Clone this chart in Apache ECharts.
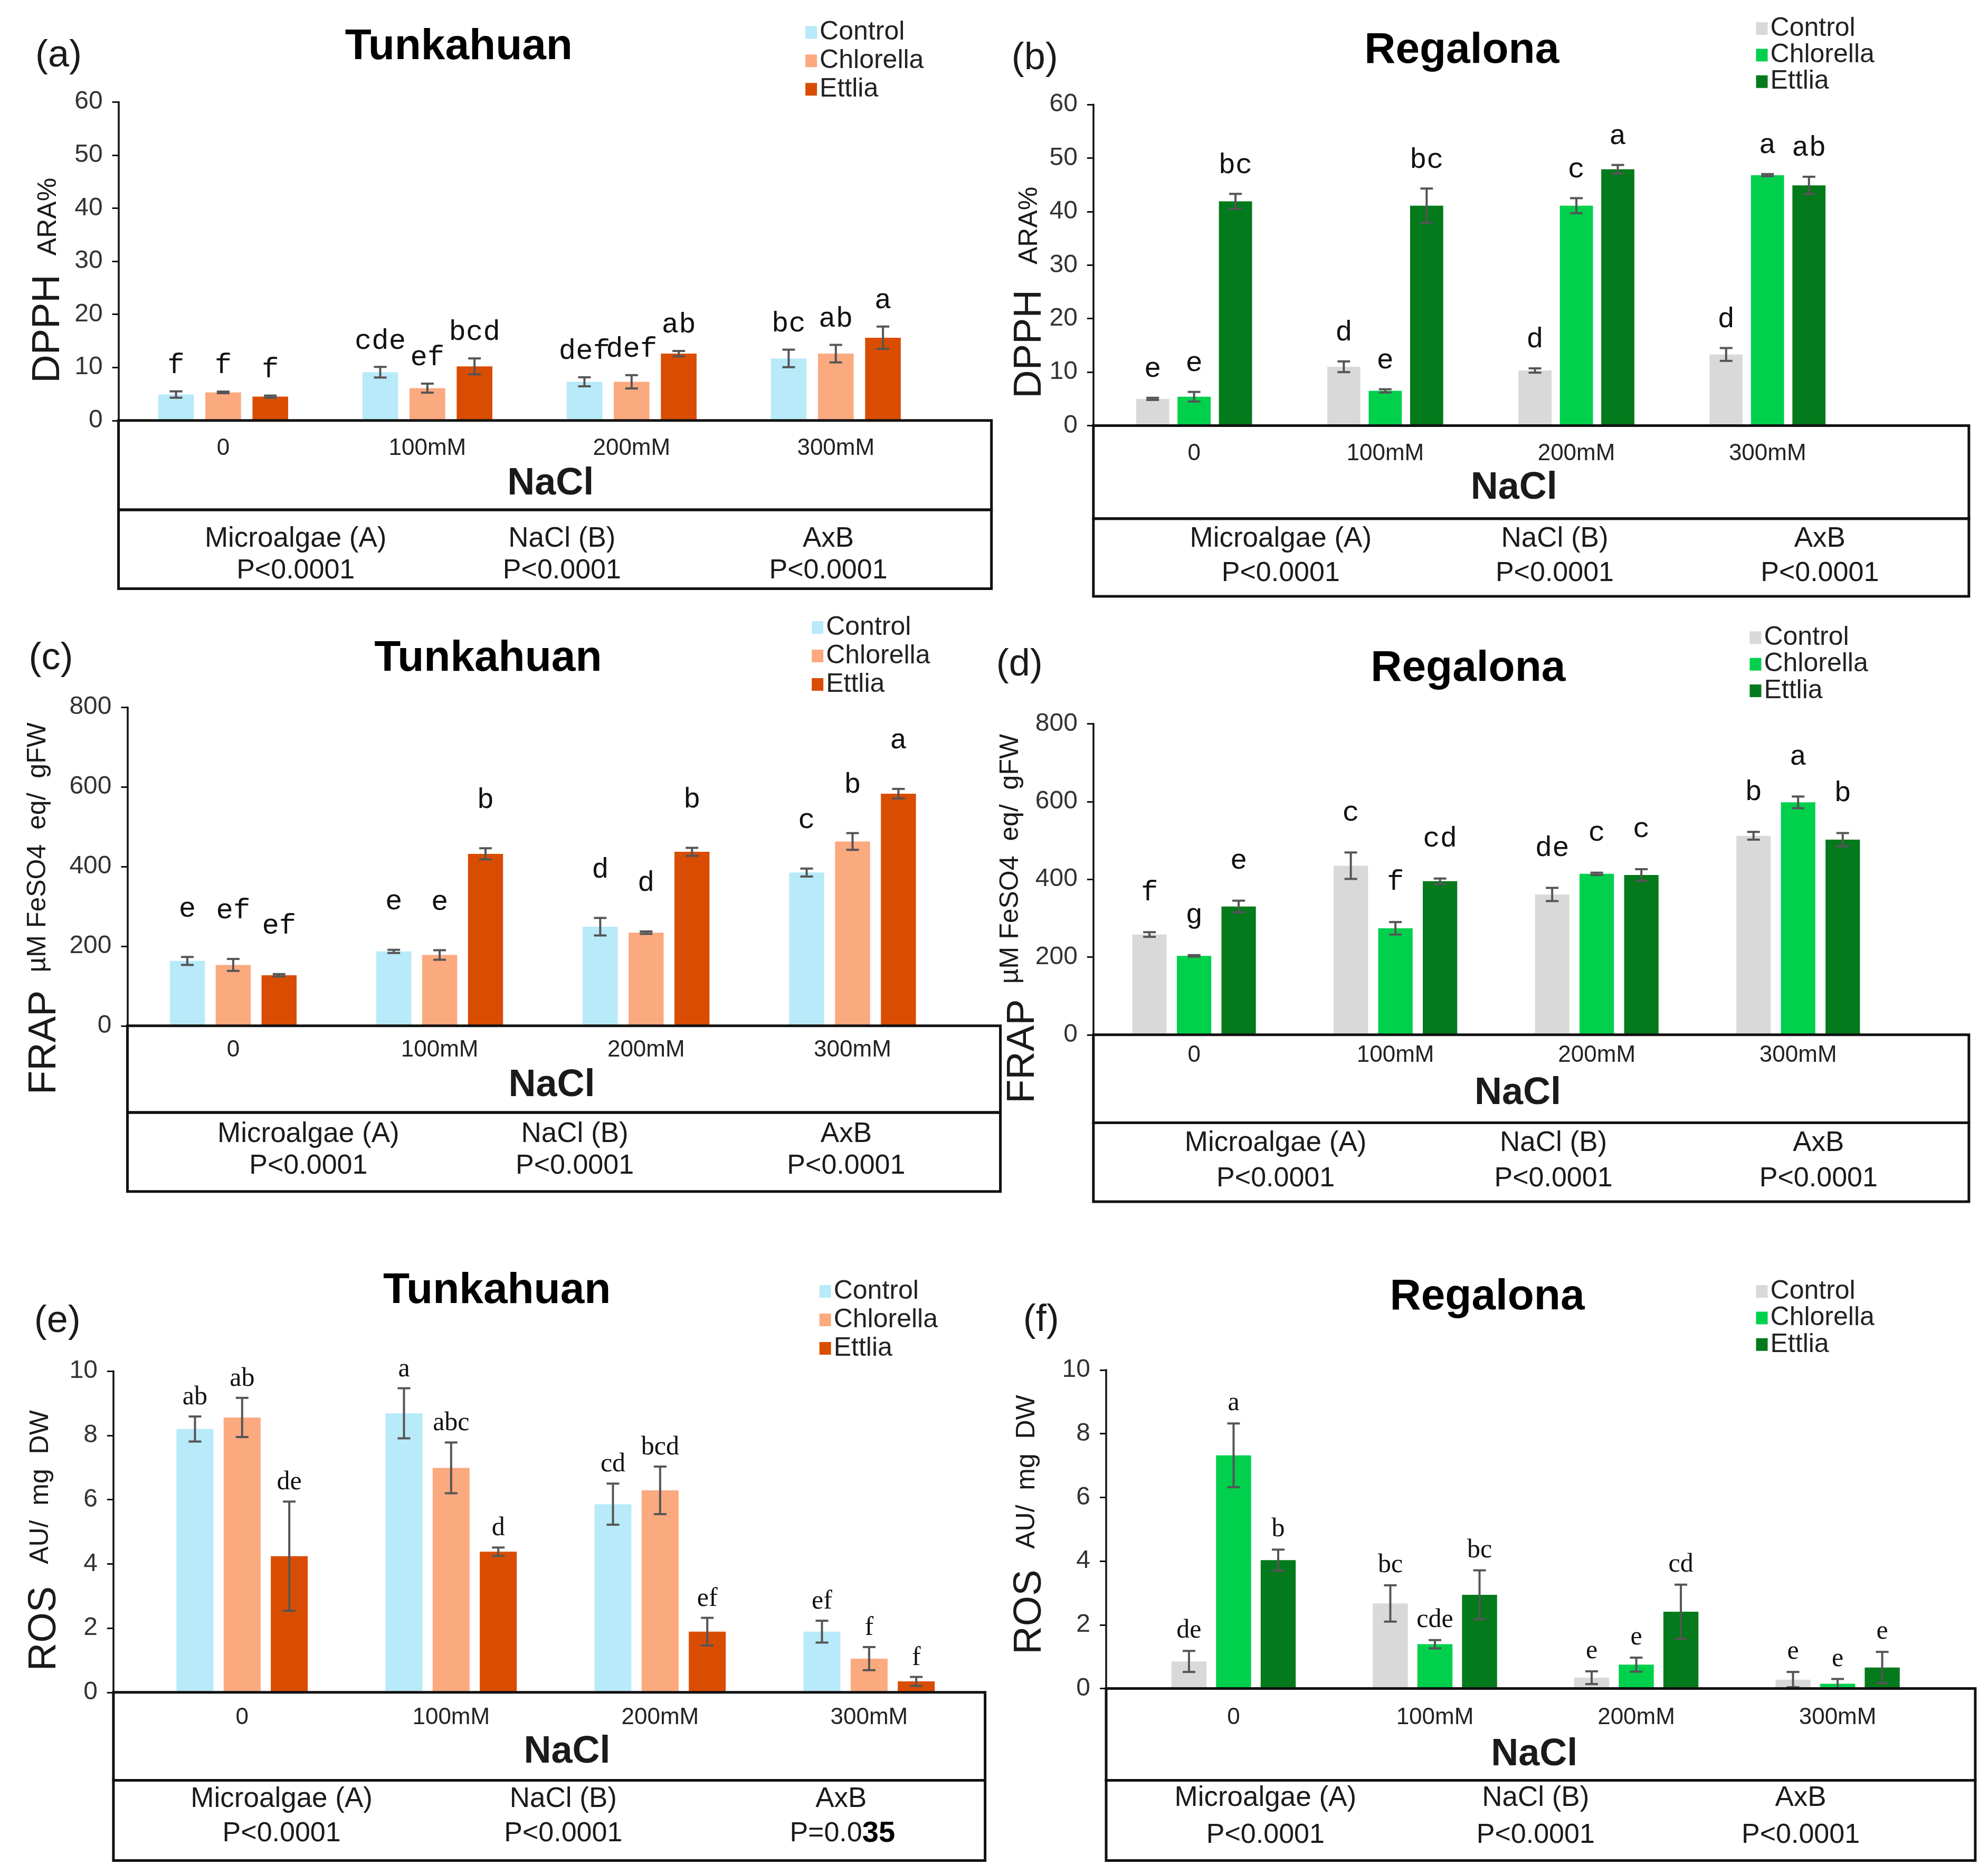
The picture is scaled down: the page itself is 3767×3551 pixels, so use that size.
<!DOCTYPE html>
<html lang="en">
<head>
<meta charset="utf-8">
<title>DPPH, FRAP and ROS - Tunkahuan / Regalona</title>
<script src="https://cdn.jsdelivr.net/npm/echarts@6/dist/echarts.min.js"></script>
<style>
  html, body { margin: 0; padding: 0; background: #fff; }
  #main { width: 3767px; height: 3551px; }
</style>
</head>
<body>
<div id="main"></div>
<script>
// ---------- data ----------
var nacl = ['0', '100mM', '200mM', '300mM'];
var treatments = ['Control', 'Chlorella', 'Ettlia'];
var effects = ['Microalgae (A)', 'NaCl (B)', 'AxB'];

// rows: Control, Chlorella, Ettlia ; columns: 0, 100mM, 200mM, 300mM
var dpphTunVal = [[4.9, 9.1, 7.3, 11.7], [5.3, 6.1, 7.3, 12.6], [4.5, 10.2, 12.6, 15.6]];
var dpphTunErr = [[0.6, 1.0, 0.85, 1.65], [0.15, 0.85, 1.25, 1.65], [0.2, 1.5, 0.5, 2.1]];
var dpphTunLet = [['f', 'cde', 'def', 'bc'], ['f', 'ef', 'def', 'ab'], ['f', 'bcd', 'ab', 'a']];
var dpphTunP = ['P<0.0001', 'P<0.0001', 'P<0.0001'];

var dpphRegVal = [[5.0, 11.0, 10.3, 13.3], [5.4, 6.5, 41.1, 46.8], [41.9, 41.1, 47.9, 44.9]];
var dpphRegErr = [[0.2, 1.0, 0.4, 1.2], [0.9, 0.3, 1.4, 0.2], [1.4, 3.2, 0.8, 1.6]];
var dpphRegLet = [['e', 'd', 'd', 'd'], ['e', 'e', 'c', 'a'], ['bc', 'bc', 'a', 'ab']];
var dpphRegP = ['P<0.0001', 'P<0.0001', 'P<0.0001'];

var frapTunVal = [[163, 187, 249, 385], [153, 178, 234, 463], [127, 432, 437, 583]];
var frapTunErr = [[10, 4, 22, 10], [15, 12, 3, 21], [3, 14, 10, 12]];
var frapTunLet = [['e', 'e', 'd', 'c'], ['ef', 'e', 'd', 'b'], ['ef', 'b', 'b', 'a']];
var frapTunP = ['P<0.0001', 'P<0.0001', 'P<0.0001'];

var frapRegVal = [[258, 435, 361, 512], [203, 274, 414, 598], [330, 395, 411, 502]];
var frapRegErr = [[6, 34, 17, 10], [2, 16, 3, 15], [15, 7, 15, 17]];
var frapRegLet = [['f', 'c', 'de', 'b'], ['g', 'f', 'c', 'a'], ['e', 'cd', 'c', 'b']];
var frapRegP = ['P<0.0001', 'P<0.0001', 'P<0.0001'];

var rosTunVal = [[8.2, 8.69, 5.86, 1.89], [8.56, 6.99, 6.29, 1.05], [4.24, 4.38, 1.89, 0.34]];
var rosTunErr = [[0.39, 0.78, 0.64, 0.34], [0.61, 0.79, 0.74, 0.36], [1.7, 0.13, 0.43, 0.14]];
var rosTunLet = [['ab', 'a', 'cd', 'ef'], ['ab', 'abc', 'bcd', 'f'], ['de', 'd', 'ef', 'f']];
var rosTunP = ['P<0.0001', 'P<0.0001', 'P=0.035'];

var rosRegVal = [[0.85, 2.67, 0.34, 0.28], [7.32, 1.39, 0.75, 0.15], [4.03, 2.94, 2.41, 0.66]];
var rosRegErr = [[0.33, 0.57, 0.2, 0.24], [1.0, 0.13, 0.22, 0.15], [0.33, 0.77, 0.85, 0.49]];
var rosRegLet = [['de', 'bc', 'e', 'e'], ['a', 'cde', 'e', 'e'], ['b', 'bc', 'cd', 'e']];
var rosRegP = ['P<0.0001', 'P<0.0001', 'P<0.0001'];

// ---------- layout (measured on a 1560 px wide copy, scaled by k) ----------
var k = 3767 / 1560;
function px(v) { return v * k; }

var SANS = '"Liberation Sans", Arial, sans-serif';
var tunColors = ['#b8eaf9', '#fba97f', '#d94d02'];
var regColors = ['#d9d9d9', '#00d04c', '#037a1b'];
var monoLetters = '54px "Liberation Mono", monospace';
var serifLetters = '50px "Liberation Serif", serif';
var catFont = 44;

var panels = [
  { tag: '(a)', tagAt: [46, 44], title: 'Tunkahuan', titleAt: [360, 37], legend: [632, 25, 21.5],
    colors: tunColors, grid: [95, 80, 736, 330], axisX: 93, box: [400, 462, 778], yMax: 60, yStep: 10,
    bar: [28, 37], gap: 22, letterFont: monoLetters, xLabel: 22,
    yBig: ['DPPH', 38, 258], ySmall: ['ARA%', 38, 170], naclAt: [432, 380],
    statsX: [232, 441, 650], statsY: [423, 448], p: dpphTunP, val: dpphTunVal, err: dpphTunErr, lett: dpphTunLet },
  { tag: '(b)', tagAt: [812, 46], title: 'Regalona', titleAt: [1147, 40], legend: [1378, 22, 20],
    colors: regColors, grid: [862, 82, 1462, 334], axisX: 858, box: [407, 468, 1545], yMax: 60, yStep: 10,
    bar: [26, 32.5], gap: 27, letterFont: monoLetters, xLabel: 22,
    yBig: ['DPPH', 808, 270], ySmall: ['ARA%', 808, 177], naclAt: [1188, 383],
    statsX: [1005, 1220, 1428], statsY: [423, 450], p: dpphRegP, val: dpphRegVal, err: dpphRegErr, lett: dpphRegLet },
  { tag: '(c)', tagAt: [40, 517], title: 'Tunkahuan', titleAt: [383, 517], legend: [637, 492, 21.5],
    colors: tunColors, grid: [102, 555, 750, 805], axisX: 100, box: [873, 935, 785], yMax: 800, yStep: 200,
    bar: [27.5, 36], gap: 64, letterFont: monoLetters, xLabel: 19,
    yBig: ['FRAP', 35, 818], ySmall: ['\u00b5M FeSO4  eq/  gFW', 30, 665], naclAt: [433, 852],
    statsX: [242, 451, 664], statsY: [890, 915], p: frapTunP, val: frapTunVal, err: frapTunErr, lett: frapTunLet },
  { tag: '(d)', tagAt: [800, 522], title: 'Regalona', titleAt: [1152, 525], legend: [1373, 500, 20],
    colors: regColors, grid: [858, 568, 1490, 812], axisX: 858, box: [881, 943, 1545], yMax: 800, yStep: 200,
    bar: [27, 35], gap: 48, letterFont: monoLetters, xLabel: 16,
    yBig: ['FRAP', 803, 825], ySmall: ['\u00b5M FeSO4  eq/  gFW', 793, 674], naclAt: [1191, 858],
    statsX: [1001, 1219, 1427], statsY: [897, 925], p: frapRegP, val: frapRegVal, err: frapRegErr, lett: frapRegLet },
  { tag: '(e)', tagAt: [45, 1037], title: 'Tunkahuan', titleAt: [390, 1013], legend: [643, 1013, 21.5],
    colors: tunColors, grid: [108, 1076, 764, 1328], axisX: 89, box: [1397, 1460, 773], yMax: 10, yStep: 2,
    bar: [29, 37], gap: 11, letterFont: serifLetters, xLabel: 20,
    yBig: ['ROS', 35, 1278], ySmall: ['AU/  mg  DW', 32, 1167], naclAt: [445, 1375],
    statsX: [221, 442, 660], statsY: [1412, 1439], p: rosTunP, val: rosTunVal, err: rosTunErr, lett: rosTunLet },
  { tag: '(f)', tagAt: [817, 1036], title: 'Regalona', titleAt: [1167, 1018], legend: [1378, 1013, 20],
    colors: regColors, grid: [889, 1075, 1521, 1325], axisX: 868, box: [1397, 1460, 1550], yMax: 10, yStep: 2,
    bar: [27.5, 35], gap: 13, letterFont: serifLetters, xLabel: 23,
    yBig: ['ROS', 808, 1265], ySmall: ['AU/  mg  DW', 806, 1155], naclAt: [1204, 1377],
    statsX: [993, 1205, 1413], statsY: [1411, 1440], p: rosRegP, val: rosRegVal, err: rosRegErr, lett: rosRegLet }
];

// error bar + significance letter, sitting on bar j of each group
function errorBars(p, j) {
  var shift = (j - 1) * px(p.bar[1]);
  var cap = 12;
  return function (params, api) {
    var i = api.value(0), v = api.value(1), e = api.value(2);
    var x = api.coord([i, v])[0] + shift;
    var hi = api.coord([i, v + e])[1];
    var lo = api.coord([i, v - e])[1];
    var ls = { stroke: '#555', lineWidth: 4 };
    return {
      type: 'group',
      children: [
        { type: 'line', shape: { x1: x, y1: hi, x2: x, y2: lo }, style: ls },
        { type: 'line', shape: { x1: x - cap, y1: hi, x2: x + cap, y2: hi }, style: ls },
        { type: 'line', shape: { x1: x - cap, y1: lo, x2: x + cap, y2: lo }, style: ls },
        { type: 'text', x: x, y: hi - p.gap,
          style: { text: p.lett[j][params.dataIndex], font: p.letterFont, fill: '#111',
                   textAlign: 'center', textVerticalAlign: 'bottom' } }
      ]
    };
  };
}

function text(str, x, y, font, extra) {
  var el = { type: 'text', x: x, y: y, z: 20,
    style: { text: str, font: font, fill: '#1a1a1a', textAlign: 'center', textVerticalAlign: 'middle' } };
  for (var key in extra) { el[key] = extra[key]; }
  return el;
}

var option = {
  backgroundColor: '#fff',
  animation: false,
  textStyle: { fontFamily: SANS },
  grid: [], xAxis: [], yAxis: [], legend: [], series: [], graphic: []
};

panels.forEach(function (p, n) {
  var g = p.grid;
  option.grid.push({ left: px(g[0]), top: px(g[1]), width: px(g[2] - g[0]), height: px(g[3] - g[1]) });

  option.xAxis.push({
    type: 'category', gridIndex: n, data: nacl,
    axisLine: { show: false }, axisTick: { show: false },
    axisLabel: { margin: px(p.xLabel) - catFont / 2, fontSize: catFont, color: '#222', fontFamily: SANS }
  });

  option.yAxis.push({
    type: 'value', gridIndex: n, min: 0, max: p.yMax, interval: p.yStep,
    offset: px(g[0] - p.axisX),
    axisLine: { show: true, lineStyle: { color: '#111', width: 3.5 } },
    axisTick: { show: true, length: 12, lineStyle: { color: '#111', width: 3 } },
    axisLabel: { margin: 30, fontSize: 48, color: '#333', fontFamily: SANS },
    splitLine: { show: false }
  });

  option.legend.push({
    orient: 'vertical', left: px(p.legend[0]), top: px(p.legend[1]) - 24,
    padding: 0, itemGap: px(p.legend[2]) - 48, itemWidth: 22, itemHeight: 24,
    icon: 'rect', selectedMode: false,
    textStyle: { fontSize: 50, lineHeight: 48, color: '#222', fontFamily: SANS },
    data: treatments.map(function (t, j) { return { name: t, itemStyle: { color: p.colors[j] } }; })
  });

  treatments.forEach(function (t, j) {
    option.series.push({
      type: 'bar', name: t, xAxisIndex: n, yAxisIndex: n, data: p.val[j],
      barWidth: px(p.bar[0]),
      barGap: ((p.bar[1] - p.bar[0]) / p.bar[0] * 100).toFixed(1) + '%',
      itemStyle: { color: p.colors[j] }, silent: true
    });
  });
  treatments.forEach(function (t, j) {
    option.series.push({
      type: 'custom', name: t, xAxisIndex: n, yAxisIndex: n, z: 5, silent: true,
      data: p.val[j].map(function (v, i) { return [i, v, p.err[j][i]]; }),
      renderItem: errorBars(p, j)
    });
  });

  // table boxes under the plot
  var boxStyle = { fill: 'none', stroke: '#111', lineWidth: 5 };
  option.graphic.push({ type: 'rect', z: 15, style: boxStyle,
    shape: { x: px(p.axisX), y: px(g[3]), width: px(p.box[2] - p.axisX), height: px(p.box[0] - g[3]) } });
  option.graphic.push({ type: 'rect', z: 15, style: boxStyle,
    shape: { x: px(p.axisX), y: px(p.box[0]), width: px(p.box[2] - p.axisX), height: px(p.box[1] - p.box[0]) } });

  option.graphic.push(text(p.tag, px(p.tagAt[0]), px(p.tagAt[1]), '72px ' + SANS));
  var title = text(p.title, px(p.titleAt[0]), px(p.titleAt[1]), 'bold 82px ' + SANS);
  title.style.fill = '#000';
  option.graphic.push(title);
  option.graphic.push(text('NaCl', px(p.naclAt[0]), px(p.naclAt[1]), 'bold 72px ' + SANS));
  option.graphic.push(text(p.yBig[0], px(p.yBig[1]), px(p.yBig[2]), '74px ' + SANS, { rotation: Math.PI / 2 }));
  option.graphic.push(text(p.ySmall[0], px(p.ySmall[1]), px(p.ySmall[2]), '50px ' + SANS, { rotation: Math.PI / 2 }));

  effects.forEach(function (name, c) {
    var cx = px(p.statsX[c]);
    option.graphic.push(text(name, cx, px(p.statsY[0]), '53px ' + SANS));
    var pv = p.p[c];
    if (pv.indexOf('=') > 0) {
      // P=0.035 : last two digits printed in bold black
      var head = text(pv.slice(0, -2), cx + 40, px(p.statsY[1]), '52px ' + SANS);
      head.style.textAlign = 'right';
      var tail = text(pv.slice(-2), cx + 40, px(p.statsY[1]), 'bold 56px ' + SANS);
      tail.style.textAlign = 'left';
      tail.style.fill = '#000';
      option.graphic.push(head, tail);
    } else {
      option.graphic.push(text(pv, cx, px(p.statsY[1]), '52px ' + SANS));
    }
  });
});

var myChart = echarts.init(document.getElementById('main'));
myChart.setOption(option);
</script>
</body>
</html>
